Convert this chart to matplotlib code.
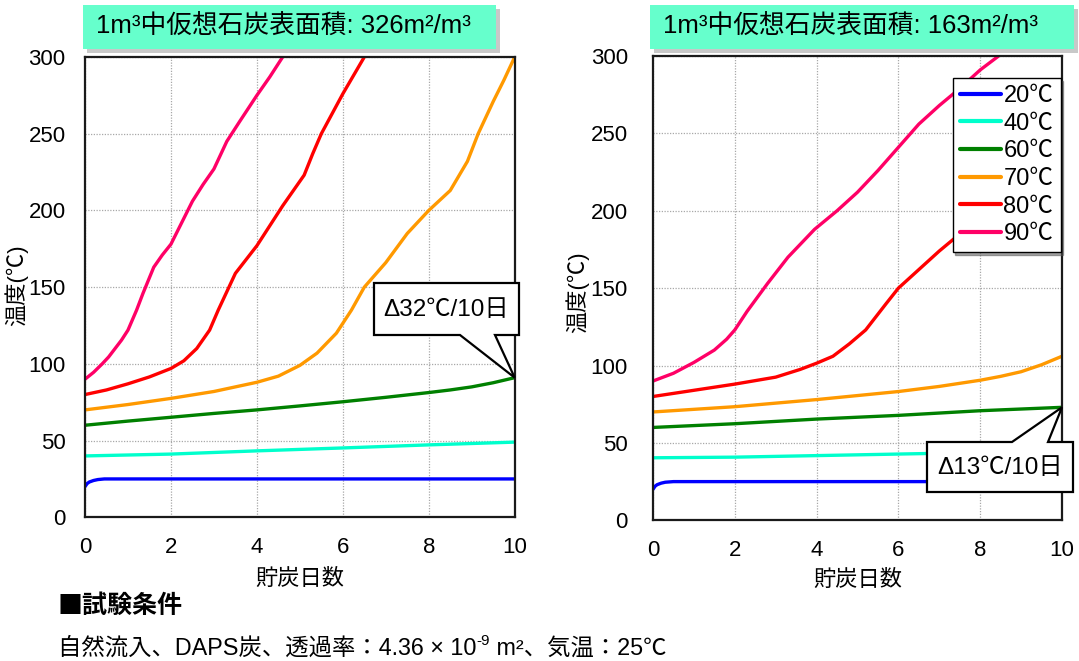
import matplotlib
matplotlib.use("Agg")
import matplotlib.pyplot as plt
from matplotlib.patches import Polygon, Rectangle

plt.rcParams['font.family'] = ['Liberation Sans', 'Noto Sans CJK JP']

W, H = 1079, 661

# ---- data: storage days vs. temperature, one curve per initial temperature ----
series_labels = ['20℃', '40℃', '60℃', '70℃', '80℃', '90℃']
series_colors = ['#0000FF', '#00FFCC', '#008000', '#FF9900', '#FF0000', '#FF0066']

# surface area 326 m2/m3
a_20_x = [0, 0.05, 0.1, 0.2, 0.3, 0.45, 10]
a_20_y = [20, 22, 23, 24, 24.6, 25, 25]
a_40_x = [0, 2, 4, 6, 8, 10]
a_40_y = [40, 41.2, 43.3, 45.2, 47.2, 49]
a_60_x = [0, 1, 2, 3, 4, 5, 6, 7, 8, 8.5, 9, 9.5, 10]
a_60_y = [60, 62.7, 65.2, 67.7, 70, 72.6, 75.3, 78.2, 81.3, 83, 85, 87.7, 91]
a_70_x = [0, 1, 2, 3, 3.5, 4, 4.5, 5, 5.4, 5.85, 6.2, 6.5, 7, 7.5, 8, 8.5, 8.9, 9.15, 9.5, 9.75, 10]
a_70_y = [70, 73.5, 77.5, 82, 85, 88, 92, 99, 107, 120, 135, 150, 166, 185, 200, 213, 232, 250, 271, 285, 300]
a_80_x = [0, 0.5, 1, 1.5, 2, 2.3, 2.6, 2.9, 3.1, 3.5, 4, 4.6, 5.1, 5.3, 5.5, 6, 6.5]
a_80_y = [80, 83, 87, 91.5, 97, 102, 110, 122, 135, 159, 177, 203, 223, 237, 250, 276, 300]
a_90_x = [0, 0.2, 0.4, 0.55, 0.7, 0.85, 1, 1.2, 1.35, 1.6, 1.8, 2, 2.25, 2.5, 2.75, 3, 3.3, 3.6, 4, 4.3, 4.6]
a_90_y = [90, 94.5, 100, 104.5, 110, 115.5, 122, 135, 146, 163, 171, 178, 192, 206, 217, 227, 245, 258, 275, 287, 300]

# surface area 163 m2/m3
b_20_x = [0, 0.05, 0.1, 0.2, 0.3, 0.5, 10]
b_20_y = [20, 22, 23, 24, 24.6, 25, 25]
b_40_x = [0, 2, 4, 6, 8, 10]
b_40_y = [40.4, 40.8, 41.8, 42.8, 43.8, 44.8]
b_60_x = [0, 2, 4, 6, 8, 10]
b_60_y = [60, 62.4, 65.4, 67.8, 70.8, 73]
b_70_x = [0, 2, 4, 6, 7, 8, 8.5, 9, 9.5, 10]
b_70_y = [70, 73.4, 78, 83.2, 86.5, 90.5, 93, 96, 100.5, 106]
b_80_x = [0, 1, 2, 3, 3.6, 4, 4.4, 4.8, 5.2, 5.7, 6, 6.5, 7, 7.5, 8, 8.5, 9, 9.5, 10]
b_80_y = [80, 84, 88, 92.5, 97.5, 101.5, 106, 114, 123, 140, 150, 162, 174, 185, 197, 209, 222, 234, 245]
b_90_x = [0, 0.5, 1, 1.5, 1.8, 2, 2.3, 2.8, 3.3, 3.95, 4.5, 5, 5.5, 6, 6.5, 7, 7.5, 8, 8.45]
b_90_y = [90, 95, 102, 110, 117, 123, 135, 153, 170, 188, 200, 212, 226, 241, 256, 268, 279, 291, 300]

left_xs = [a_20_x, a_40_x, a_60_x, a_70_x, a_80_x, a_90_x]
left_ys = [a_20_y, a_40_y, a_60_y, a_70_y, a_80_y, a_90_y]
right_xs = [b_20_x, b_40_x, b_60_x, b_70_x, b_80_x, b_90_x]
right_ys = [b_20_y, b_40_y, b_60_y, b_70_y, b_80_y, b_90_y]

x_ticks = [0, 2, 4, 6, 8, 10]
y_ticks = [0, 50, 100, 150, 200, 250, 300]

titles = ['1m³中仮想石炭表面積: 326m²/m³', '1m³中仮想石炭表面積: 163m²/m³']
callouts = ['Δ32℃/10日', 'Δ13℃/10日']
callout_day = 10
callout_left_temp = 91
callout_right_temp = 73


def fx(x):
    return x / W


def fy(y):
    return 1 - y / H


def rect_axes(x0, y0, x1, y1):
    return [fx(x0), fy(y1), (x1 - x0) / W, (y1 - y0) / H]


fig = plt.figure(figsize=(W / 100, H / 100), dpi=100)

axL = fig.add_axes(rect_axes(85, 57, 514.7, 517.3))
axR = fig.add_axes(rect_axes(653, 56, 1062, 520.3))


def style(ax, ypad):
    ax.set_xlim(0, 10)
    ax.set_ylim(0, 300)
    ax.set_xticks(x_ticks)
    ax.set_yticks(y_ticks)
    ax.tick_params(length=0, labelsize=16)
    ax.tick_params(axis='x', pad=14)
    ax.tick_params(axis='y', pad=ypad)
    ax.grid(True, linestyle=(0, (1, 1.2)), color='#a8a8a8', linewidth=0.9)
    for s in ax.spines.values():
        s.set_linewidth(1.6)
        s.set_color('#1a1a1a')
    ax.set_xlabel('貯炭日数', fontsize=16)


style(axL, 14)
style(axR, 18)
axL.xaxis.set_label_coords(0.5, -0.112)
axR.xaxis.set_label_coords(0.5, -0.106)

for xs, ys, c, lab in zip(left_xs, left_ys, series_colors, series_labels):
    axL.plot(xs, ys, color=c, lw=2.4, label=lab, solid_capstyle='round')
for xs, ys, c, lab in zip(right_xs, right_ys, series_colors, series_labels):
    axR.plot(xs, ys, color=c, lw=2.4, label=lab, solid_capstyle='round')

leg = axR.legend(loc='upper right',
                 bbox_to_anchor=((1060.5 - 653) / (1062 - 653), 1 - (78 - 56) / (520.3 - 56)),
                 fontsize=17, frameon=True, fancybox=False, shadow=True,
                 handlelength=1.75, handletextpad=0.1, labelspacing=0.24,
                 borderpad=0.3, borderaxespad=0.0)
leg.get_frame().set_edgecolor('black')
leg.get_frame().set_linewidth(1.0)
for ln in leg.get_lines():
    ln.set_linewidth(3)

# y-axis labels
fig.text(fx(16), fy(285), '温度(℃)', rotation=90, fontsize=16, ha='center', va='center')
fig.text(fx(577), fy(292), '温度(℃)', rotation=90, fontsize=16, ha='center', va='center')

# title boxes with drop shadow
for (x0, x1, tx), title in zip([(83, 496, 96), (650, 1074, 663)], titles):
    fig.patches.append(Rectangle((fx(x0 + 4), fy(49 + 4)), (x1 - x0) / W, 44 / H,
                                 transform=fig.transFigure, facecolor='#c8c8c8',
                                 edgecolor='none', zorder=1))
    fig.patches.append(Rectangle((fx(x0), fy(49)), (x1 - x0) / W, 44 / H,
                                 transform=fig.transFigure, facecolor='#66FFCC',
                                 edgecolor='none', zorder=2))
    fig.text(fx(tx), fy(27), title, fontsize=18.5, ha='left', va='center', zorder=3)

# callout balloons pointing to the 60℃ curve at day 10
inv = fig.transFigure.inverted()
tipL = inv.transform(axL.transData.transform((callout_day, callout_left_temp)))
tipR = inv.transform(axR.transData.transform((callout_day, callout_right_temp)))

polyL = [(fx(374), fy(283)), (fx(519), fy(283)), (fx(519), fy(335)), (fx(495), fy(335)),
         tuple(tipL), (fx(460), fy(335)), (fx(374), fy(335))]
polyR = [(fx(927), fy(442)), (fx(1012), fy(442)), tuple(tipR), (fx(1048), fy(442)),
         (fx(1073), fy(442)), (fx(1073), fy(492)), (fx(927), fy(492))]
for poly in (polyL, polyR):
    fig.patches.append(Polygon(poly, closed=True, transform=fig.transFigure,
                               facecolor='white', edgecolor='black', lw=1.6,
                               joinstyle='miter', zorder=5))
fig.text(fx(446.5), fy(310), callouts[0], fontsize=17.5, ha='center', va='center', zorder=6)
fig.text(fx(1000), fy(468), callouts[1], fontsize=17.5, ha='center', va='center', zorder=6)

# test conditions
fig.text(fx(57), fy(606), '■試験条件', fontsize=18, fontweight='bold', ha='left', va='center',
         family=['Noto Sans CJK JP'])

fig.canvas.draw()
renderer = fig.canvas.get_renderer()
parts = [('自然流入、DAPS炭、透過率：4.36 × 10', 16.8, 0), ('-9', 11, 7), (' m²、気温：25℃', 16.8, 0)]
cur_x = fx(58)
for s, size, dy in parts:
    t = fig.text(cur_x, fy(648 - dy), s, fontsize=size, ha='left', va='center')
    bb = t.get_window_extent(renderer=renderer)
    cur_x += bb.width / W

fig.savefig('out.png', dpi=100)
